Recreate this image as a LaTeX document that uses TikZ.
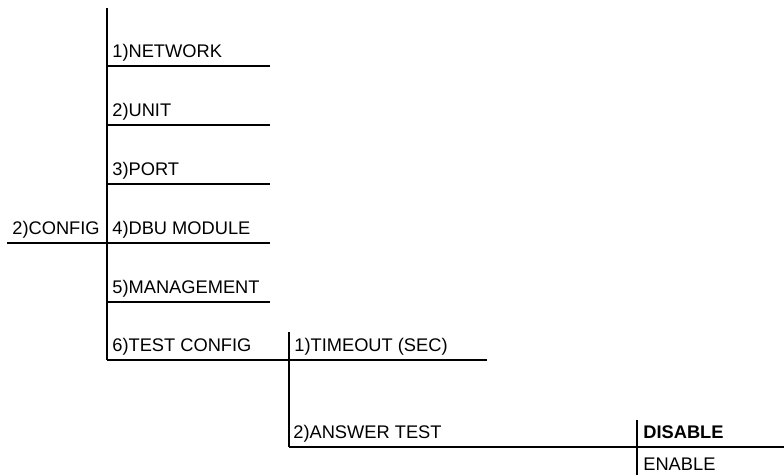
\documentclass[tikz,border=0pt]{standalone}
\usepackage{fontspec}
\setmainfont{Liberation Sans}
\usetikzlibrary{positioning}

\begin{document}
\begin{tikzpicture}[x=0.02cm,y=-0.02cm,
	item/.style={anchor=base west,inner sep=0pt,font=\fontsize{10.4}{12}\selectfont},
	rule/.style={line width=1.1pt}]
	\useasboundingbox (0,0) rectangle (784,475);
	% menu levels
	\node[item] (config) at (12,235) {2)CONFIG};
	\node[item] (network) at (112,58) {1)NETWORK};
	\node[item] (unit) at (112,117) {2)UNIT};
	\node[item] (port) at (112,176) {3)PORT};
	\node[item] (dbu) at (112,235) {4)DBU MODULE};
	\node[item] (mgmt) at (112,294) {5)MANAGEMENT};
	\node[item] (test) at (112,352) {6)TEST CONFIG};
	\node[item] (timeout) at (294,352) {1)TIMEOUT (SEC)};
	\node[item] (answer) at (293,439) {2)ANSWER TEST};
	\node[item] (disable) at (643,439) {\textbf{DISABLE}};
	\node[item] (enable) at (643,471) {ENABLE};
	% branch points
	\coordinate (cfgL) at (7,243);
	\coordinate (cfgR) at (107,243);
	\coordinate (treeA) at (107,8);
	\coordinate (treeB) at (107,360);
	\coordinate (subA) at (289,332);
	\coordinate (subB) at (289,447);
	\coordinate (optA) at (637,420);
	\coordinate (optB) at (637,475);
	\begin{scope}[rule]
	\draw (treeA) -- (treeB);
	\draw (subA) -- (subB);
	\draw (optA) -- (optB);
	\draw (cfgL) -- (cfgR);
	\draw (network.base west -| treeA) ++(0,8) -- ++(163,0);
	\draw (unit.base west -| treeA) ++(0,8) -- ++(163,0);
	\draw (port.base west -| treeA) ++(0,8) -- ++(163,0);
	\draw (dbu.base west -| treeA) ++(0,8) -- ++(163,0);
	\draw (mgmt.base west -| treeA) ++(0,8) -- ++(163,0);
	\draw (treeB) -- (treeB -| subA);
	\draw (treeB -| subA) -- ++(198,0);
	\draw (subB) -- (subB -| 784,0);
	\end{scope}
\end{tikzpicture}
\end{document}
